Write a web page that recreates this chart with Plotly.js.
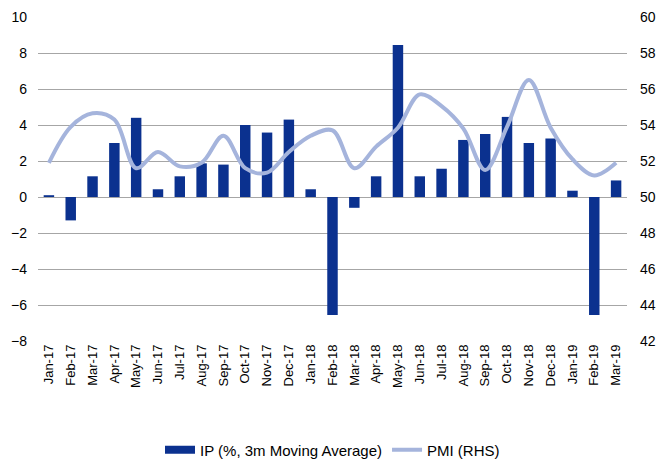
<!DOCTYPE html>
<html>
<head>
<meta charset="utf-8">
<script src="https://cdn.plot.ly/plotly-3.0.1.min.js"></script>
<style>html,body{margin:0;padding:0;background:#fff;}#chart{width:668px;height:461px;}</style>
</head>
<body>
<div id="chart"></div>
<script>
const months = ["Jan-17","Feb-17","Mar-17","Apr-17","May-17","Jun-17","Jul-17","Aug-17","Sep-17","Oct-17","Nov-17","Dec-17","Jan-18","Feb-18","Mar-18","Apr-18","May-18","Jun-18","Jul-18","Aug-18","Sep-18","Oct-18","Nov-18","Dec-18","Jan-19","Feb-19","Mar-19"];
const ipValues = [0.1,-1.3,1.15,3.0,4.4,0.43,1.15,1.87,1.8,4.0,3.58,4.3,0.43,-6.55,-0.6,1.15,8.44,1.15,1.57,3.17,3.5,4.45,3.0,3.25,0.35,-6.55,0.92];
const pmiValues = [51.9,53.9,54.65,54.3,51.6,52.5,51.7,51.9,53.4,51.6,51.35,52.5,53.4,53.7,51.6,52.8,53.85,55.7,55.05,53.8,51.5,53.9,56.5,53.85,52.1,51.2,51.9];
const ipName = "IP (%, 3m Moving Average)";
const pmiName = "PMI (RHS)";
const barColor = "#0B318F";
const lineColor = "#A5B4DC";

const traces = [
  {type:"bar", x:months, y:ipValues, name:ipName, marker:{color:barColor}, yaxis:"y", showlegend:false},
  {type:"scatter", mode:"lines", x:months, y:pmiValues, name:pmiName, yaxis:"y2", showlegend:false,
   line:{color:lineColor, width:4, shape:"spline", smoothing:1}},
  // legend keys (Excel-style wide swatches)
  {type:"scatter", mode:"lines", x:[null], y:[null], name:ipName, line:{color:barColor, width:8}},
  {type:"scatter", mode:"lines", x:[null], y:[null], name:pmiName, yaxis:"y2", line:{color:lineColor, width:4}}
];
const layout = {
  width:668, height:461,
  margin:{l:38, r:41, t:17, b:120},
  paper_bgcolor:"#fff", plot_bgcolor:"#fff",
  font:{family:"Liberation Sans, Arial, sans-serif", size:14, color:"#000"},
  bargap:0.52,
  showlegend:true,
  legend:{orientation:"h", x:0.5, xanchor:"center", yref:"container", y:0.024, yanchor:"middle", font:{size:15}, itemgap:20},
  xaxis:{type:"category", tickangle:-90, showgrid:false, zeroline:false, showline:false, ticks:"", automargin:false,
         tickfont:{size:13}},
  yaxis:{range:[-8,10], dtick:2, showgrid:true, gridcolor:"#A6A6A6", gridwidth:1, zeroline:false, showline:false, ticks:"", automargin:false, ticklabelstandoff:10},
  yaxis2:{range:[42,60], dtick:2, overlaying:"y", side:"right", showgrid:false, zeroline:false, showline:false, ticks:"", automargin:false, ticklabelstandoff:12}
};
Plotly.newPlot("chart", traces, layout, {displayModeBar:false, staticPlot:true});
</script>
</body>
</html>
